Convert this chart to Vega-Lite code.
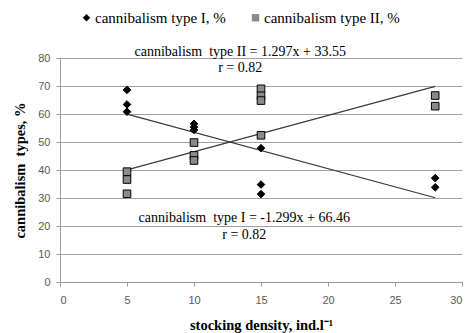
{
  "$schema": "https://vega.github.io/schema/vega-lite/v6.json",
  "width": 402,
  "height": 224,
  "autosize": {"type": "none"},
  "padding": {"left": 60, "top": 58, "right": 5, "bottom": 51},
  "background": "white",
  "config": {
    "view": {"stroke": null},
    "axis": {
      "labelFont": "Liberation Sans",
      "labelFontSize": 11,
      "labelColor": "#595959",
      "labelOverlap": false,
      "titleFont": "Liberation Serif",
      "titleFontSize": 14.5,
      "titleFontWeight": "bold",
      "titleColor": "#000000",
      "domainColor": "#9a9a9a",
      "tickColor": "#9a9a9a",
      "gridColor": "#a0a0a0"
    }
  },
  "datasets": {
    "pts": [
      {"density": 5, "value": 68.6, "series": "cannibalism type I, %"},
      {"density": 5, "value": 63.4, "series": "cannibalism type I, %"},
      {"density": 5, "value": 60.8, "series": "cannibalism type I, %"},
      {"density": 10, "value": 56.5, "series": "cannibalism type I, %"},
      {"density": 10, "value": 55.3, "series": "cannibalism type I, %"},
      {"density": 10, "value": 54.3, "series": "cannibalism type I, %"},
      {"density": 15, "value": 47.8, "series": "cannibalism type I, %"},
      {"density": 15, "value": 34.8, "series": "cannibalism type I, %"},
      {"density": 15, "value": 31.4, "series": "cannibalism type I, %"},
      {"density": 28, "value": 37.1, "series": "cannibalism type I, %"},
      {"density": 28, "value": 33.8, "series": "cannibalism type I, %"},
      {"density": 5, "value": 39.4, "series": "cannibalism type II, %"},
      {"density": 5, "value": 36.6, "series": "cannibalism type II, %"},
      {"density": 5, "value": 31.5, "series": "cannibalism type II, %"},
      {"density": 10, "value": 49.8, "series": "cannibalism type II, %"},
      {"density": 10, "value": 45.2, "series": "cannibalism type II, %"},
      {"density": 10, "value": 43.4, "series": "cannibalism type II, %"},
      {"density": 15, "value": 69.0, "series": "cannibalism type II, %"},
      {"density": 15, "value": 66.5, "series": "cannibalism type II, %"},
      {"density": 15, "value": 64.8, "series": "cannibalism type II, %"},
      {"density": 15, "value": 52.4, "series": "cannibalism type II, %"},
      {"density": 28, "value": 66.6, "series": "cannibalism type II, %"},
      {"density": 28, "value": 62.8, "series": "cannibalism type II, %"}
    ],
    "trend": [
      {"density": 5, "value": 59.97, "series": "I"},
      {"density": 28, "value": 30.09, "series": "I"},
      {"density": 5, "value": 40.04, "series": "II"},
      {"density": 28, "value": 69.87, "series": "II"}
    ],
    "notes": [
      {"density": 13.45, "value": 82.2, "label": "cannibalism \u00a0type II = 1.297x + 33.55"},
      {"density": 13.45, "value": 76.4, "label": "r = 0.82"},
      {"density": 13.75, "value": 22.9, "label": "cannibalism \u00a0type I = -1.299x + 66.46"},
      {"density": 13.75, "value": 16.9, "label": "r = 0.82"}
    ]
  },
  "encoding": {
    "x": {
      "field": "density", "type": "quantitative",
      "scale": {"domain": [0, 30], "nice": false},
      "axis": {
        "values": [0, 5, 10, 15, 20, 25, 30],
        "grid": false,
        "tickSize": 4,
        "labelPadding": 8,
        "title": "stocking density, ind.l\u207b\u00b9",
        "titlePadding": 13
      }
    },
    "y": {
      "field": "value", "type": "quantitative",
      "scale": {"domain": [0, 80], "nice": false},
      "axis": {
        "values": [0, 10, 20, 30, 40, 50, 60, 70, 80],
        "tickCount": 9,
        "grid": true,
        "tickSize": 4,
        "labelPadding": 6,
        "title": "cannibalism \u00a0types, %",
        "titlePadding": 10
      }
    }
  },
  "layer": [
    {
      "data": {"name": "trend"},
      "mark": {"type": "line", "color": "#3a3a3a", "strokeWidth": 1.2},
      "encoding": {
        "detail": {"field": "series"}
      }
    },
    {
      "data": {"name": "pts"},
      "mark": {"type": "point", "filled": true, "stroke": "#000000", "strokeWidth": 1, "opacity": 1},
      "encoding": {
        "shape": {
          "field": "series", "type": "nominal",
          "scale": {"domain": ["cannibalism type I, %", "cannibalism type II, %"], "range": ["diamond", "square"]},
          "legend": {
            "title": null,
            "orient": "none",
            "legendX": 19,
            "legendY": -48,
            "direction": "horizontal",
            "labelFont": "Liberation Serif",
            "labelFontSize": 15,
            "labelColor": "#000000",
            "labelOffset": 1,
            "columnPadding": 22,
            "symbolSize": 55,
            "symbolStrokeColor": "#000000",
            "symbolStrokeWidth": 1
          }
        },
        "fill": {
          "field": "series", "type": "nominal",
          "scale": {"domain": ["cannibalism type I, %", "cannibalism type II, %"], "range": ["#000000", "#8a8a8a"]},
          "legend": null
        },
        "size": {"value": 58}
      }
    },
    {
      "data": {"name": "notes"},
      "mark": {"type": "text", "font": "Liberation Serif", "fontSize": 14, "color": "#000000", "align": "center", "baseline": "middle"},
      "encoding": {
        "text": {"field": "label"}
      }
    }
  ]
}
